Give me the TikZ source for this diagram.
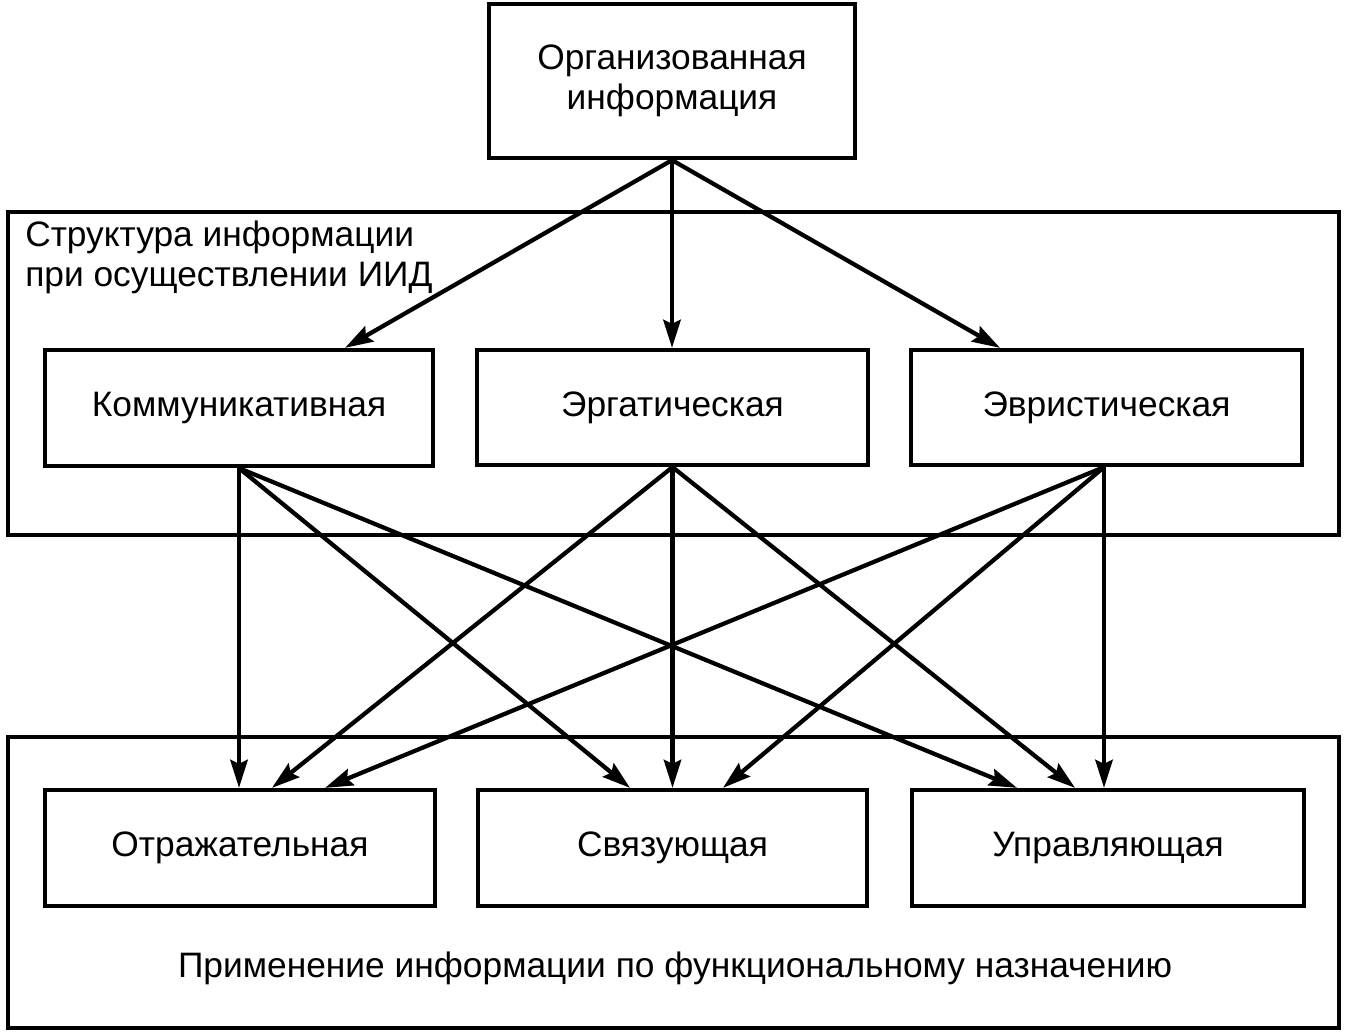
\documentclass[tikz,border=0pt]{standalone}
\usepackage{fontspec}
\setmainfont{Liberation Sans}
\usetikzlibrary{calc,arrows.meta}
\begin{document}
\begin{tikzpicture}[x=0.75pt,y=-0.75pt,
  box/.style={draw,line width=3.2pt,inner sep=0pt,font=\fontsize{26.5}{30}\selectfont,align=center},
  frame/.style={draw,line width=3.2pt,inner sep=0pt},
  lbl/.style={inner sep=0pt,font=\fontsize{26.5}{30}\selectfont},
  arr/.style={line width=3.2pt,-{Stealth[length=21pt,width=13pt,inset=3pt]}}]
\useasboundingbox (0,0) rectangle (1349,1035);
\node[frame,minimum width=1331*0.75pt,minimum height=323*0.75pt] (midframe) at (673.5,373.5) {};
\node[frame,minimum width=1331*0.75pt,minimum height=291*0.75pt] (botframe) at (673.5,882.5) {};
\node[box,minimum width=366*0.75pt,minimum height=154*0.75pt] (org) at (672,81) {Организованная\\информация};
\node[box,minimum width=388*0.75pt,minimum height=116*0.75pt] (komm) at (239,408) {Коммуникативная};
\node[box,minimum width=391*0.75pt,minimum height=115*0.75pt] (ergat) at (672.5,407.5) {Эргатическая};
\node[box,minimum width=391*0.75pt,minimum height=115*0.75pt] (evr) at (1106.5,407.5) {Эвристическая};
\node[box,minimum width=390*0.75pt,minimum height=116*0.75pt] (otr) at (240,848) {Отражательная};
\node[box,minimum width=389*0.75pt,minimum height=116*0.75pt] (svyaz) at (672.5,848) {Связующая};
\node[box,minimum width=392*0.75pt,minimum height=116*0.75pt] (upr) at (1108,848) {Управляющая};
\node[lbl,anchor=north west,align=left] (strlbl) at (25,221) {Структура информации\\при осуществлении ИИД};
\node[lbl] (primlbl) at (675,968) {Применение информации по функциональному назначению};
% top arrows
\draw[arr] (org.south) -- ($(komm.north)+(106,0)$);
\draw[arr] (org.south) -- (org.south |- ergat.north);
\draw[arr] (org.south) -- ($(evr.north)+(-106.5,0)$);
% from komm
\draw[arr] (komm.south) -- ($(otr.north)+(-1,0)$);
\draw[arr] (komm.south) -- ($(svyaz.north)+(-42.5,0)$);
\draw[arr] (komm.south) -- ($(upr.north)+(-91,0)$);
% from ergat
\draw[arr] (ergat.south) -- ($(otr.north)+(32,0)$);
\draw[arr] (ergat.south) -- (svyaz.north);
\draw[arr] (ergat.south) -- ($(upr.north)+(-33,0)$);
% from evr
\coordinate (evrout) at ($(evr.south)+(-2.5,0)$);
\draw[arr] (evrout) -- ($(otr.north)+(85,0)$);
\draw[arr] (evrout) -- ($(svyaz.north)+(50.5,0)$);
\draw[arr] (evrout) -- ($(upr.north)+(-4,0)$);
\end{tikzpicture}
\end{document}
